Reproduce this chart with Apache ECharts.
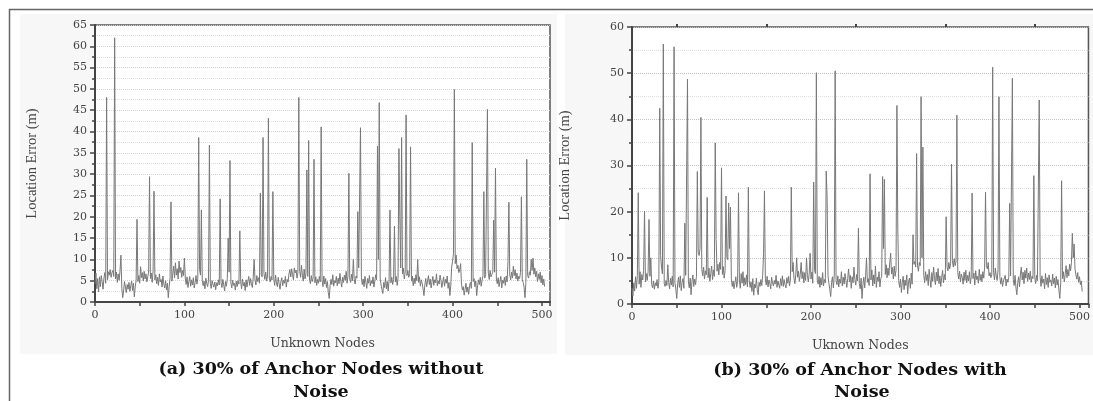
<!DOCTYPE html>
<html>
<head>
<meta charset="utf-8">
<script src="https://cdn.jsdelivr.net/npm/echarts@6/dist/echarts.min.js"></script>
<style>
html,body{margin:0;padding:0;background:#fff;}
#c{width:1093px;height:401px;}
</style>
</head>
<body>
<div id="c"></div>
<script>
// Panel (a): 30% of anchor nodes without noise (location error per unknown node)
const aErr = [
4.2,6.8,3.1,5.5,2.4,5.9,3.6,6.2,4.8,3.0,
5.6,6.9,4.4,48.0,5.2,7.1,6.3,7.6,5.8,6.9,
7.4,6.0,62.0,5.4,7.0,4.6,6.6,5.1,7.3,11.0,
3.2,1.0,2.6,4.8,3.5,2.2,4.1,3.0,4.6,2.5,
3.8,4.9,2.7,4.4,1.2,3.6,5.0,19.4,4.8,6.2,
4.4,8.3,5.7,6.9,4.9,7.2,5.4,6.6,4.7,5.9,
7.0,29.4,5.5,6.8,4.6,7.4,26.0,5.2,6.4,4.3,
5.8,3.9,6.6,4.7,5.3,3.5,6.1,4.2,3.3,5.0,
2.8,4.4,1.0,3.7,5.6,23.5,4.9,6.5,8.4,5.7,
9.2,6.3,7.8,5.4,9.6,6.9,8.1,5.8,7.4,6.2,
10.3,5.6,4.1,5.9,3.4,4.8,6.0,3.7,5.2,4.0,
5.7,3.3,4.6,6.2,4.2,5.5,38.6,7.6,6.3,21.6,
5.0,3.8,4.9,3.1,5.6,4.3,3.6,5.1,36.8,4.4,
3.2,5.0,4.1,3.5,4.7,2.9,4.5,3.8,5.2,4.0,
24.2,4.6,3.4,5.3,4.0,2.6,4.8,3.7,5.5,15.0,
7.0,33.2,4.5,3.3,5.1,3.9,4.4,2.8,4.9,3.6,
5.0,4.2,16.7,4.7,3.1,5.4,3.8,4.6,2.7,5.2,
3.5,4.9,6.0,3.9,5.5,4.3,3.4,5.8,10.0,5.1,
4.0,6.2,4.8,5.7,4.4,25.6,6.4,5.9,38.6,6.7,
5.3,7.0,4.9,6.1,43.1,5.6,4.7,6.0,5.2,25.9,
5.4,3.9,6.3,4.5,3.6,5.8,4.2,3.0,4.9,5.7,
3.8,5.1,4.4,6.0,3.5,5.3,4.7,6.6,7.6,5.9,
7.8,6.4,5.2,8.0,6.8,7.5,5.6,6.9,48.0,7.2,
5.8,8.6,6.3,4.9,7.7,5.4,6.8,31.0,6.0,37.9,
5.1,4.3,6.2,4.8,5.6,33.5,4.5,5.9,3.9,5.3,
4.4,6.0,4.7,41.1,5.2,3.6,6.1,4.2,5.5,3.4,
4.8,2.2,0.8,3.9,5.3,4.1,6.4,3.7,5.0,4.5,
6.0,3.8,5.6,4.3,6.7,4.9,3.5,5.8,4.6,6.3,
5.1,7.2,4.4,6.0,30.2,5.4,4.6,6.5,5.0,10.0,
5.3,4.2,6.1,5.6,21.2,8.0,7.8,40.9,5.8,4.1,
5.4,3.6,6.0,4.7,3.2,5.5,4.4,6.2,3.8,5.0,
4.3,5.9,3.5,4.9,6.4,5.2,36.6,10.0,46.8,5.6,
4.0,2.9,2.0,4.6,3.4,5.7,3.1,4.8,2.6,5.2,
21.6,4.5,5.8,4.1,5.3,17.8,4.7,6.0,3.9,5.5,
36.0,20.0,8.0,38.6,6.6,7.9,5.4,7.0,43.9,6.2,
7.4,5.8,6.5,36.4,4.9,6.1,3.8,5.6,4.3,6.4,
5.0,10.0,4.6,5.9,3.7,5.2,4.4,3.1,1.5,4.0,
5.5,3.6,4.9,6.2,4.1,5.4,3.3,4.8,6.0,3.9,
5.2,4.5,6.6,3.8,5.0,4.2,6.3,5.1,3.4,4.7,
5.9,3.7,5.3,4.4,6.1,3.2,4.6,1.5,3.9,8.2,
9.6,11.3,49.9,9.0,11.0,7.8,8.6,6.9,7.5,9.0,
4.2,2.8,3.6,1.6,3.0,4.4,2.3,3.5,1.8,3.9,
4.6,3.2,37.4,4.8,5.5,3.6,4.9,1.5,3.8,5.2,
4.1,5.8,3.7,5.0,6.2,25.9,5.6,6.4,6.0,45.2,
6.8,5.3,7.4,5.9,6.5,7.0,19.2,7.0,31.4,5.4,
4.3,5.7,3.6,4.9,6.0,3.3,5.1,4.4,5.8,3.9,
6.1,4.7,9.5,23.4,6.3,5.2,7.0,5.6,8.4,6.2,
7.6,5.4,6.8,4.9,6.0,5.5,6.9,24.7,5.2,4.6,
3.5,1.0,4.4,33.5,6.2,5.6,7.1,6.3,10.0,7.4,
10.3,6.5,8.0,5.9,7.2,4.8,6.6,5.3,7.0,4.5,
6.2,4.0,5.4,3.6
];
// Panel (b): 30% of anchor nodes with noise
const bErr = [
3.5,1.7,4.6,2.8,5.9,3.4,6.2,24.1,4.3,7.0,
3.6,6.4,5.2,7.3,20.1,4.8,6.6,5.1,7.1,18.3,
6.0,10.0,4.2,3.5,5.0,3.2,4.6,3.9,5.3,3.4,
4.8,42.4,10.5,8.0,6.5,56.3,4.4,3.8,5.1,4.0,
8.5,4.7,3.3,5.6,4.1,6.0,3.7,55.7,4.6,3.2,
1.2,4.4,5.8,3.6,6.1,2.9,4.7,5.5,3.4,17.5,
6.2,5.9,48.7,4.8,3.5,5.6,2.0,4.9,6.3,3.8,
5.4,4.2,6.0,28.7,11.2,10.5,12.0,40.4,7.5,6.1,
8.0,5.4,7.2,6.3,23.1,5.7,7.8,4.9,6.6,8.2,
5.3,7.4,6.0,34.9,14.0,7.1,8.6,6.3,9.0,7.5,
29.5,6.4,8.1,5.6,7.3,23.4,10.2,9.6,21.9,12.0,
21.0,5.5,3.8,5.0,3.3,4.6,5.9,3.6,4.9,24.1,
5.2,3.4,6.6,4.5,7.0,3.9,5.7,4.2,6.3,3.7,
25.3,5.0,3.6,4.8,2.7,5.5,1.9,4.3,3.5,5.6,
3.1,2.0,4.7,3.8,5.3,4.0,6.2,11.0,24.5,5.4,
4.1,6.0,3.7,5.2,4.4,3.3,5.8,4.6,3.9,5.1,
4.3,6.2,3.6,5.0,4.7,3.4,5.5,4.0,6.1,3.8,
5.3,4.2,3.5,5.7,4.5,6.0,3.9,5.2,25.3,7.0,
9.0,5.6,4.4,6.3,10.0,5.8,7.1,4.9,6.4,9.0,
5.5,7.0,4.6,6.8,5.1,10.0,6.2,4.8,6.6,11.0,
5.4,6.9,4.5,26.4,7.3,6.6,50.1,5.2,4.3,6.0,
3.6,5.7,4.1,6.8,3.9,5.3,4.6,28.8,23.0,6.1,
4.4,3.2,1.6,4.7,5.9,3.5,6.3,50.5,5.0,4.2,
6.1,3.7,5.4,4.5,7.0,3.9,5.8,4.3,6.6,5.1,
3.6,5.5,7.6,4.8,6.2,3.4,5.9,4.6,8.0,5.3,
4.1,6.4,5.0,16.4,4.4,3.3,5.6,1.2,4.2,5.8,
3.5,6.1,10.0,4.7,5.5,4.0,28.2,5.2,7.4,3.9,
6.3,4.4,8.2,3.6,5.8,4.9,7.0,3.7,5.5,6.0,
27.6,12.0,27.0,6.4,8.5,5.7,7.8,6.2,8.9,11.0,
6.5,7.9,5.4,8.2,6.0,7.3,43.0,16.0,5.1,3.6,
5.4,2.5,4.7,6.0,3.1,5.2,4.0,6.3,2.2,4.8,
5.6,3.4,6.7,4.3,15.0,8.6,9.2,8.0,32.6,8.4,
7.1,9.0,8.3,44.9,10.0,34.0,6.2,4.6,7.0,5.1,
6.4,4.0,7.5,5.3,3.6,6.8,4.9,8.0,5.6,4.2,
6.9,5.0,7.7,4.4,6.1,3.8,5.7,7.3,4.6,6.4,
5.2,18.9,8.1,7.2,9.0,7.6,8.8,30.3,9.4,8.0,
9.8,8.3,9.1,40.9,6.8,5.4,7.1,4.8,6.5,5.7,
4.3,6.9,5.1,7.3,4.6,6.2,5.0,7.0,4.4,5.8,
24.0,5.5,6.7,4.1,7.2,5.3,6.0,4.5,7.5,5.1,
6.4,4.8,7.0,5.6,8.0,24.2,8.3,7.6,9.0,6.1,
6.8,5.7,6.3,51.3,6.9,5.2,7.8,6.0,5.1,7.4,
44.9,5.9,4.3,5.7,3.8,5.0,4.6,6.2,3.9,5.4,
4.7,5.8,21.8,6.1,6.4,48.9,5.3,4.0,6.2,3.5,
2.0,4.6,5.9,3.7,6.5,8.0,5.2,6.9,4.4,7.3,
5.6,7.8,4.9,6.7,5.3,7.1,4.7,6.0,5.5,27.8,
5.8,4.4,6.2,5.0,4.8,44.2,5.9,3.8,6.1,4.5,
5.4,3.3,6.6,4.2,5.7,3.6,6.3,4.7,5.2,3.9,
6.5,4.4,5.6,3.5,6.0,4.1,5.3,3.0,1.2,4.6,
26.7,5.5,7.0,4.8,6.4,8.3,5.7,7.5,6.1,8.6,
7.2,9.0,15.3,10.0,13.0,7.6,6.3,5.4,6.8,4.7,
5.9,4.2,5.0,2.7
];
const aYMax = 65, aYStep = 5;
const bYMax = 60, bYStep = 10;
const xMaxA = 509, xMaxB = 510, xStep = 100;
const aXName = 'Unknown Nodes';
const bXName = 'Uknown Nodes';
const yName = 'Location Error (m)';
const capA = ['(a) 30% of Anchor Nodes without', 'Noise'];
const capB = ['(b) 30% of Anchor Nodes with', 'Noise'];

const chart = echarts.init(document.getElementById('c'), null, {renderer: 'canvas'});
const tickFont = {fontFamily: 'DejaVu Serif', fontSize: 11, color: '#444'};
function xAx(idx, max, name) {
  return {
    type: 'value', gridIndex: idx, min: 0, max: max, interval: xStep,
    name: name, nameLocation: 'middle', nameGap: 35,
    nameTextStyle: {fontFamily: 'DejaVu Serif', fontSize: 12.5, color: '#444'},
    axisLine: {show: true, onZero: false, lineStyle: {color: '#444', width: 2}},
    axisTick: {show: true, length: 4, lineStyle: {color: '#444', width: 1.5}},
    minorTick: {show: true, splitNumber: 2, length: 4, lineStyle: {color: '#444', width: 1.5}},
    axisLabel: Object.assign({margin: 8, showMaxLabel: false,
      formatter: v => (v % 100 === 0 ? String(v) : '')}, tickFont),
    splitLine: {show: false}
  };
}
function yAx(idx, max, step, gap, minorSplitColor, splitColor) {
  return {
    type: 'value', gridIndex: idx, min: 0, max: max, interval: step,
    name: yName, nameLocation: 'middle', nameGap: gap, nameRotate: 90,
    nameTextStyle: {fontFamily: 'Liberation Serif', fontSize: 14.5, color: '#444'},
    axisLine: {show: true, lineStyle: {color: '#444', width: 2}},
    axisTick: {show: true, length: 5, lineStyle: {color: '#444', width: 1.5}},
    minorTick: {show: true, splitNumber: 2, length: 3, lineStyle: {color: '#444', width: 1.5}},
    axisLabel: Object.assign({margin: 8}, tickFont),
    splitLine: {show: true, lineStyle: {color: splitColor, type: 'dotted', width: 1}},
    minorSplitLine: {show: true, lineStyle: {color: minorSplitColor, type: 'dotted', width: 1}}
  };
}
function lineSeries(xi, yi, arr) {
  return {
    type: 'line', xAxisIndex: xi, yAxisIndex: yi,
    data: arr.map((v, i) => [i, v]),
    showSymbol: false, symbol: 'none',
    lineStyle: {color: '#787878', width: 1},
    animation: false
  };
}
const capFont = 'bold 17.5px "DejaVu Serif"';
chart.setOption({
  animation: false,
  backgroundColor: '#ffffff',
  grid: [
    {left: 95, top: 25, width: 455, height: 277, show: true, backgroundColor: '#ffffff', borderColor: '#555', borderWidth: 1.5},
    {left: 632, top: 27, width: 458, height: 277, show: true, backgroundColor: '#ffffff', borderColor: '#555', borderWidth: 1.5}
  ],
  xAxis: [
    xAx(0, xMaxA, aXName),
    xAx(1, xMaxB, bXName),
    {type: 'value', gridIndex: 1, position: 'top', min: 0, max: xMaxB, interval: xStep,
     axisLine: {show: false, onZero: false}, axisLabel: {show: false}, splitLine: {show: false},
     axisTick: {show: false},
     minorTick: {show: true, splitNumber: 2, length: 3, lineStyle: {color: '#444', width: 2}}}
  ],
  yAxis: [
    yAx(0, aYMax, aYStep, 55, '#dedede', '#d2d2d2'),
    yAx(1, bYMax, bYStep, 59, '#e0e0e0', '#c4c4c4')
  ],
  series: [lineSeries(0, 0, aErr), lineSeries(1, 1, bErr)],
  graphic: [
    {type: 'rect', z: -10, shape: {x: 20, y: 14, width: 537, height: 340}, style: {fill: '#f7f7f7'}},
    {type: 'rect', z: -10, shape: {x: 565, y: 14, width: 528, height: 341}, style: {fill: '#f7f7f7'}},
    {type: 'line', z: 50, shape: {x1: 9, y1: 9.5, x2: 1093, y2: 9.5}, style: {stroke: '#666', lineWidth: 1.5}},
    {type: 'line', z: 50, shape: {x1: 9.5, y1: 9, x2: 9.5, y2: 401}, style: {stroke: '#666', lineWidth: 1.5}},
    {type: 'text', z: 50, style: {text: capA[0], x: 321, y: 369, textAlign: 'center', textVerticalAlign: 'middle', font: capFont, fill: '#111'}},
    {type: 'text', z: 50, style: {text: capA[1], x: 321, y: 392, textAlign: 'center', textVerticalAlign: 'middle', font: capFont, fill: '#111'}},
    {type: 'text', z: 50, style: {text: capB[0], x: 860, y: 370, textAlign: 'center', textVerticalAlign: 'middle', font: capFont, fill: '#111'}},
    {type: 'text', z: 50, style: {text: capB[1], x: 862, y: 392, textAlign: 'center', textVerticalAlign: 'middle', font: capFont, fill: '#111'}}
  ]
});
</script>
</body>
</html>
